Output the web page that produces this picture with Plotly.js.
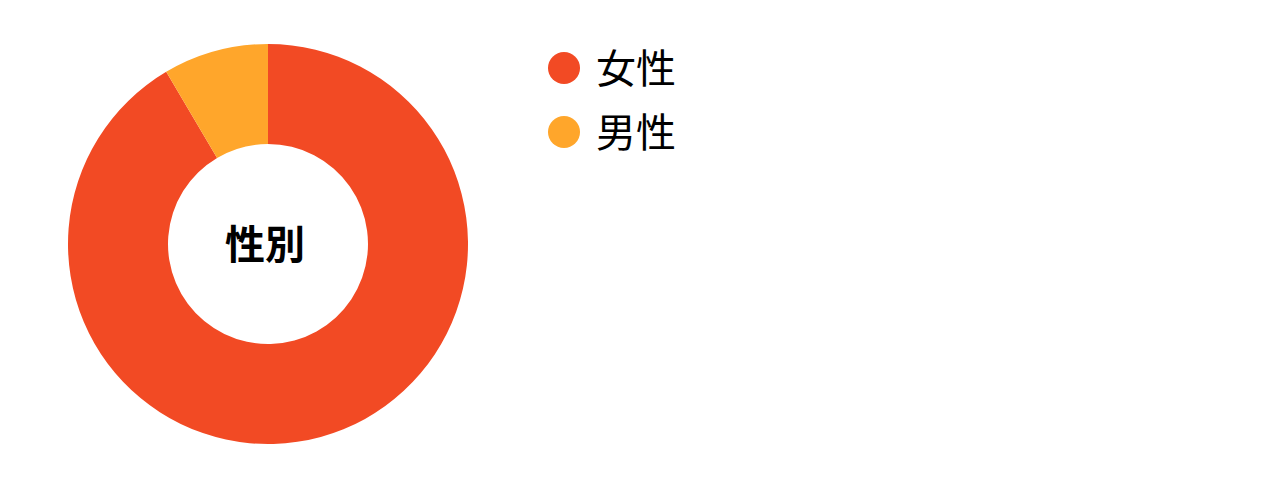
<!DOCTYPE html>
<html>
<head>
<meta charset="utf-8">
<script src="https://cdn.plot.ly/plotly-3.0.1.min.js"></script>
<style>
  html, body { margin: 0; padding: 0; background: #fff; }
  #chart { width: 1280px; height: 488px; }
</style>
</head>
<body>
<div id="chart"></div>
<script>
// 性別 breakdown (percent)
var labels = ["女性", "男性"];
var values = [91.5, 8.5];
var colors = ["#F24A24", "#FFA62B"];
var centerLabel = "性別";

var W = 1280, H = 488;
var fontFam = '"Noto Sans CJK JP", "Noto Sans", sans-serif';

var trace = {
    type: 'pie',
    labels: labels,
    values: values,
    hole: 0.5,
    sort: false,
    direction: 'clockwise',
    rotation: 0,
    textinfo: 'none',
    hoverinfo: 'label+percent',
    marker: { colors: colors, line: { width: 0 } },
    domain: { x: [68 / W, 468 / W], y: [(H - 444) / H, (H - 44) / H] },
    showlegend: false
};

// custom legend: big round dots + text
var shapes = [];
var annotations = [];
for (var i = 0; i < labels.length; i++) {
    var yc = 1 - (68 + i * 64) / H;
    shapes.push({
        type: 'circle', xref: 'paper', yref: 'paper',
        xsizemode: 'pixel', ysizemode: 'pixel',
        xanchor: 564 / W, yanchor: yc,
        x0: -16, x1: 16, y0: -16, y1: 16,
        fillcolor: colors[i], line: { width: 0 }
    });
    annotations.push({
        xref: 'paper', yref: 'paper', x: 594 / W, y: 1 - (66 + i * 64) / H,
        xanchor: 'left', yanchor: 'middle', showarrow: false,
        text: labels[i], font: { family: fontFam, size: 40, color: '#000' }
    });
}
annotations.push({
    xref: 'paper', yref: 'paper', x: 265 / W, y: 1 - 242 / H,
    xanchor: 'center', yanchor: 'middle', showarrow: false,
    text: '<b>' + centerLabel + '</b>',
    font: { family: fontFam, size: 40, color: '#000' }
});

var layout = {
    width: W, height: H,
    margin: { l: 0, r: 0, t: 0, b: 0 },
    paper_bgcolor: '#fff',
    showlegend: false,
    shapes: shapes,
    annotations: annotations
};

Plotly.newPlot('chart', [trace], layout, { displayModeBar: false, staticPlot: true });
</script>
</body>
</html>
